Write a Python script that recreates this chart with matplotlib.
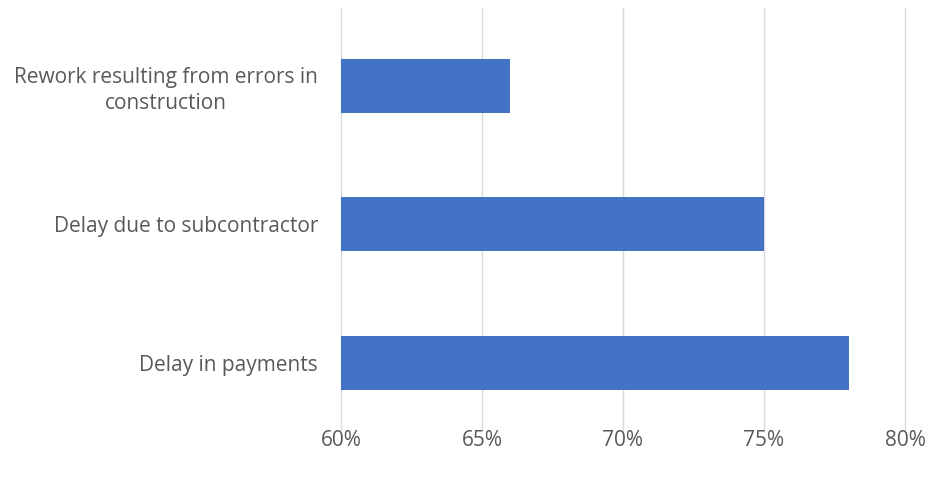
import matplotlib
matplotlib.use("Agg")
import matplotlib.pyplot as plt
from matplotlib.ticker import FuncFormatter

plt.rcParams["font.family"] = ["Open Sans", "DejaVu Sans"]

# data (bottom -> top)
categories = ["Delay in payments", "Delay due to subcontractor",
              "Rework resulting from errors in\nconstruction"]
values = [0.78, 0.75, 0.66]
xticks = [0.60, 0.65, 0.70, 0.75, 0.80]

BAR = "#4472C4"
GRID = "#d9d9d9"
TXT = "#595959"

fig = plt.figure(figsize=(9.32, 4.79), dpi=100)
ax = fig.add_axes([0.3659, 0.1023, 0.971 - 0.3659, 0.9833 - 0.1023])

ypos = list(range(len(categories)))
ax.barh(ypos, [v - 0.60 for v in values], left=0.60, height=0.39, color=BAR, zorder=3)

ax.set_xlim(0.60, 0.80)
ax.set_ylim(-0.484, 2.563)
ax.set_xticks(xticks)
ax.xaxis.set_major_formatter(FuncFormatter(lambda v, _: f"{v * 100:.0f}%"))
ax.set_yticks(ypos)
ax.set_yticklabels(categories, multialignment="center", linespacing=1.3)
ax.tick_params(axis="both", length=0, colors=TXT, labelsize=15)
ax.tick_params(axis="y", pad=16.5)
ax.tick_params(axis="x", pad=0)
ax.grid(axis="x", color=GRID, lw=1, zorder=0)
for gl in ax.get_xgridlines():
    gl.set_clip_on(False)
for s in ax.spines.values():
    s.set_visible(False)

fig.savefig("out.png", dpi=100)
